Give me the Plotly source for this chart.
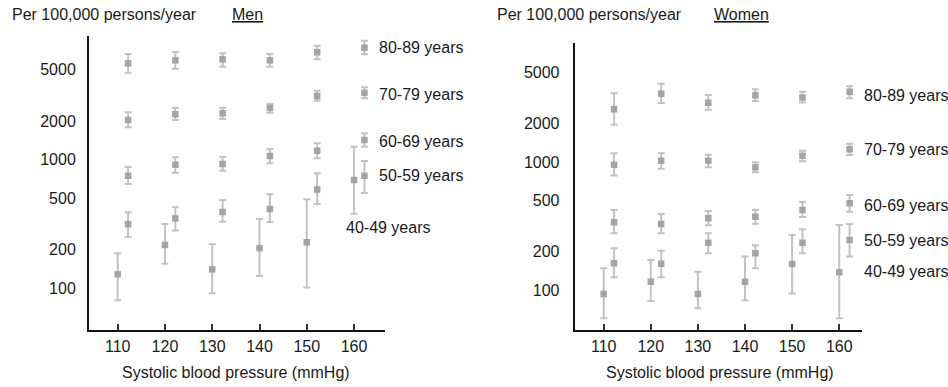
import plotly.graph_objects as go

W, H = 948, 387

# ---------------- data ----------------
bp = [110, 120, 130, 140, 150, 160]
groups = ["80-89 years", "70-79 years", "60-69 years", "50-59 years", "40-49 years"]

# Men: point estimate, upper, lower (per 100,000 persons/year)
men_80 = [5620, 5930, 6040, 5930, 6850, 7430]
men_80_hi = [6640, 6880, 6730, 6640, 7700, 8430]
men_80_lo = [4750, 5100, 5290, 5290, 6040, 6600]
men_70 = [2040, 2260, 2300, 2530, 3130, 3320]
men_70_hi = [2340, 2540, 2540, 2720, 3440, 3660]
men_70_lo = [1790, 2040, 2080, 2320, 2880, 3010]
men_60 = [752, 917, 928, 1071, 1177, 1426]
men_60_hi = [879, 1046, 1057, 1214, 1344, 1607]
men_60_lo = [649, 794, 823, 940, 1027, 1265]
men_50 = [316, 351, 393, 415, 588, 752]
men_50_hi = [391, 428, 487, 540, 786, 979]
men_50_lo = [251, 283, 331, 329, 454, 552]
men_40 = [129, 218, 141, 206, 229, 697]
men_40_hi = [188, 317, 221, 347, 493, 1265]
men_40_lo = [81, 156, 92, 125, 102, 381]

# Women
wom_80 = [2565, 3390, 2886, 3295, 3168, 3514]
wom_80_hi = [3415, 4055, 3313, 3668, 3514, 3871]
wom_80_lo = [1944, 2871, 2547, 2975, 2897, 3122]
wom_70 = [952, 1021, 1021, 911, 1116, 1256]
wom_70_hi = [1167, 1167, 1138, 995, 1221, 1386]
wom_70_lo = [785, 885, 911, 833, 1013, 1132]
wom_60 = [340, 330, 365, 375, 423, 477]
wom_60_hi = [423, 394, 416, 423, 489, 554]
wom_60_lo = [279, 279, 322, 331, 373, 411]
wom_50 = [163, 162, 236, 195, 236, 247]
wom_50_hi = [213, 204, 279, 225, 300, 330]
wom_50_lo = [127, 127, 195, 149, 195, 184]
wom_40 = [94, 117, 94, 117, 161, 139]
wom_40_hi = [149, 173, 140, 184, 271, 324]
wom_40_lo = [61, 83, 73, 84, 95, 61]

y_ticks = [100, 200, 500, 1000, 2000, 5000]
x_ticks = [110, 120, 130, 140, 150, 160]

# ---------------- styling ----------------
FONT = "Liberation Sans, Arial, Helvetica, sans-serif"
TXT = "#1a1a1a"
MARK = "#a4a4a4"
ERR = "#c2c2c2"
OFFSET = 2.2  # horizontal shift of the 50-89 year groups

men = [(men_80, men_80_hi, men_80_lo), (men_70, men_70_hi, men_70_lo),
       (men_60, men_60_hi, men_60_lo), (men_50, men_50_hi, men_50_lo),
       (men_40, men_40_hi, men_40_lo)]
women = [(wom_80, wom_80_hi, wom_80_lo), (wom_70, wom_70_hi, wom_70_lo),
         (wom_60, wom_60_hi, wom_60_lo), (wom_50, wom_50_hi, wom_50_lo),
         (wom_40, wom_40_hi, wom_40_lo)]

fig = go.Figure()


def add_panel(data, xa, ya):
    for gi, (v, hi, lo) in enumerate(data):
        off = 0 if groups[gi] == "40-49 years" else OFFSET
        fig.add_trace(go.Scatter(
            x=[b + off for b in bp], y=v, mode="markers",
            xaxis=xa, yaxis=ya, name=groups[gi], showlegend=False,
            marker=dict(symbol="square", size=6.5, color=MARK),
            error_y=dict(type="data", symmetric=False,
                         array=[h - a for h, a in zip(hi, v)],
                         arrayminus=[a - l for a, l in zip(v, lo)],
                         color=ERR, thickness=2, width=3.5),
        ))


add_panel(men, "x", "y")
add_panel(women, "x2", "y2")


def px_x(p):
    return p / W


def px_y(p):
    return 1 - p / H


axis_common = dict(showgrid=False, zeroline=False, showline=True,
                   linecolor="#111", linewidth=2,
                   tickfont=dict(family=FONT, size=16, color=TXT))

fig.update_layout(
    width=W, height=H, margin=dict(l=0, r=0, t=0, b=0),
    paper_bgcolor="white", plot_bgcolor="white",
    xaxis=dict(domain=[px_x(89), px_x(385)], anchor="y",
               range=[103.93, 166.55], tickvals=x_ticks,
               ticks="inside", ticklen=6, tickwidth=1.5, tickcolor="#333",
               ticklabelstandoff=1, **axis_common),
    yaxis=dict(domain=[px_y(330), px_y(36)], anchor="x", type="log",
               range=[1.678, 3.962], tickvals=y_ticks,
               ticktext=[str(t) for t in y_ticks], ticks="",
               ticklabelstandoff=8, **axis_common),
    xaxis2=dict(domain=[px_x(574.7), px_x(862.3)], anchor="y2",
                range=[103.84, 164.9], tickvals=x_ticks,
                ticks="inside", ticklen=6, tickwidth=1.5, tickcolor="#333",
                ticklabelstandoff=1, **axis_common),
    yaxis2=dict(domain=[px_y(330), px_y(43.3)], anchor="x2", type="log",
                range=[1.694, 3.922], tickvals=y_ticks,
                ticktext=[str(t) for t in y_ticks], ticks="",
                ticklabelstandoff=10, **axis_common),
)

anns = []


def text(s, x, y, xanchor="left"):
    anns.append(dict(text=s, x=px_x(x), y=px_y(y), xref="paper", yref="paper",
                     xanchor=xanchor, yanchor="middle", showarrow=False,
                     font=dict(family=FONT, size=16, color=TXT)))


# headers
text("Per 100,000 persons/year", 10, 15)
text("<u>Men</u>", 230, 15)
text("Per 100,000 persons/year", 495, 15)
text("<u>Women</u>", 712, 15)

# axis titles
text("Systolic blood pressure (mmHg)", 236, 372.7, "center")
text("Systolic blood pressure (mmHg)", 720, 372.7, "center")

# group labels
men_label_y = [47.7, 94, 141.7, 175.7, 227.7]
men_label_x = [376.7, 376.7, 376.7, 376.7, 344]
for g, x, y in zip(groups, men_label_x, men_label_y):
    text(g, x, y)
wom_label_y = [95, 149.3, 205, 240, 271]
for g, y in zip(groups, wom_label_y):
    text(g, 862.3, y)

fig.update_layout(annotations=anns)

fig.write_html("out.html")
